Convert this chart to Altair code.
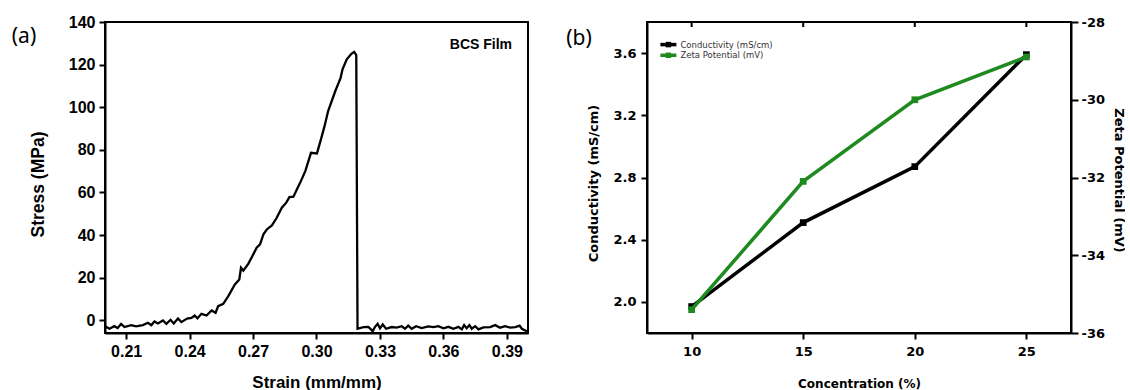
import altair as alt
import pandas as pd

# ---- (a) tensile test of the BCS film ----
strain = [
    0.2000, 0.2005, 0.2021, 0.2044, 0.2060, 0.2076, 0.2092, 0.2124, 0.2147, 0.2179,
    0.2203, 0.2219, 0.2234, 0.2250, 0.2274, 0.2290, 0.2310, 0.2325, 0.2345, 0.2361,
    0.2388, 0.2409, 0.2424, 0.2437, 0.2456, 0.2480, 0.2504, 0.2523, 0.2535, 0.2559,
    0.2583, 0.2614, 0.2635, 0.2643, 0.2654, 0.2678, 0.2701, 0.2717, 0.2733, 0.2749,
    0.2765, 0.2789, 0.2812, 0.2836, 0.2857, 0.2872, 0.2891, 0.2907, 0.2923, 0.2947,
    0.2974, 0.3002, 0.3021, 0.3038, 0.3055, 0.3089, 0.3114, 0.3123, 0.3143, 0.3165,
    0.3178, 0.3188, 0.3194, 0.3222, 0.3245, 0.3266, 0.3277, 0.3289, 0.3300, 0.3313,
    0.3329, 0.3355, 0.3379, 0.3403, 0.3418, 0.3434, 0.3450, 0.3471, 0.3497, 0.3529,
    0.3553, 0.3576, 0.3600, 0.3624, 0.3647, 0.3671, 0.3687, 0.3698, 0.3710, 0.3723,
    0.3734, 0.3750, 0.3766, 0.3789, 0.3821, 0.3845, 0.3868, 0.3892, 0.3916, 0.3940,
    0.3960, 0.3971, 0.3992, 0.4000,
]
stress = [
    -3.3, -3.1, -4.0, -2.8, -3.7, -1.7, -3.2, -2.3, -2.9, -2.3,
    -1.2, -2.3, -0.6, -1.5, -0.1, -1.7, 0.2, -1.5, 0.8, -0.9,
    0.8, 1.1, 2.2, 0.9, 3.0, 2.2, 4.6, 3.5, 6.6, 7.7,
    11.3, 16.8, 19.1, 24.6, 23.3, 26.6, 30.9, 34.0, 35.6, 40.3,
    42.6, 44.5, 48.1, 52.8, 55.2, 57.8, 58.0, 61.4, 64.6, 70.0,
    78.6, 78.3, 84.9, 91.1, 98.2, 107.6, 113.8, 117.8, 122.5, 125.1,
    126.0, 124.5, -4.0, -3.2, -3.1, -5.1, -3.1, -1.7, -3.8, -2.0,
    -4.0, -3.2, -3.5, -2.8, -4.0, -2.5, -4.0, -2.8, -3.7, -2.9,
    -3.2, -2.8, -3.8, -3.1, -4.0, -3.1, -4.3, -2.3, -3.8, -2.3,
    -4.0, -2.8, -4.3, -3.4, -3.2, -2.3, -3.5, -2.8, -3.5, -3.2,
    -2.5, -4.0, -5.1, -4.9,
]
strain_ticks = [0.21, 0.24, 0.27, 0.30, 0.33, 0.36, 0.39]
stress_ticks = [0, 20, 40, 60, 80, 100, 120, 140]

# ---- (b) conductivity and zeta potential vs concentration ----
concentration = [10, 15, 20, 25]
conductivity = [1.97, 2.51, 2.87, 3.59]
zeta_potential = [-35.4, -32.1, -30.0, -28.9]
conductivity_ticks = [2.0, 2.4, 2.8, 3.2, 3.6]
zeta_ticks = [-36, -34, -32, -30, -28]
legend_labels = ["Conductivity (mS/cm)", "Zeta Potential (mV)"]
series_colors = ["#000000", "#1f8a1f"]

FONT_A = "Liberation Sans"
FONT_B = "DejaVu Sans"
W_A, H_A = 423, 311
W_B, H_B = 424, 311

# ---------------- panel (a) ----------------
tensile = pd.DataFrame({"strain": strain, "stress": stress, "i": range(len(strain))})

axis_a = dict(
    labelFont=FONT_A, labelFontSize=16, labelFontWeight="bold", labelColor="black",
    titleFont=FONT_A, titleFontWeight="bold", titleColor="black",
    tickSize=6, tickWidth=2, tickColor="black",
    domainColor="black", domainWidth=2, grid=False, labelPadding=4,
)

curve = alt.Chart(tensile).mark_line(color="black", strokeWidth=2.3, clip=True).encode(
    x=alt.X(
        "strain:Q",
        scale=alt.Scale(domain=[0.2, 0.4], nice=False, zero=False),
        axis=alt.Axis(
            values=strain_ticks, format=".2f", title="Strain (mm/mm)",
            titleFontSize=17, titleX=W_A / 2, titleY=49, titleBaseline="middle",
            **axis_a,
        ),
    ),
    y=alt.Y(
        "stress:Q",
        scale=alt.Scale(domain=[-6, 140], nice=False, zero=False),
        axis=alt.Axis(
            values=stress_ticks, format="d", title="Stress (MPa)",
            titleFontSize=17.5, titleX=-67, titleY=162, titleAngle=-90,
            titleBaseline="middle", titleAlign="center",
            **axis_a,
        ),
    ),
    order="i:Q",
)

film_label = alt.Chart(pd.DataFrame({"t": ["BCS Film"]})).mark_text(
    font=FONT_A, fontSize=14, fontWeight="bold", align="right", baseline="middle", color="black"
).encode(text="t:N", x=alt.value(W_A - 16), y=alt.value(23))

tag_a = alt.Chart(pd.DataFrame({"t": ["(a)"]})).mark_text(
    font="Noto Sans", fontSize=21, align="center", baseline="middle", color="black"
).encode(text="t:N", x=alt.value(-81), y=alt.value(15))

panel_a = alt.layer(curve, film_label, tag_a).properties(width=W_A, height=H_A)

# ---------------- panel (b) ----------------
chem = pd.DataFrame({
    "conc": concentration,
    "cond": conductivity,
    "zeta": zeta_potential,
})

axis_b = dict(
    labelFont=FONT_B, labelFontSize=13, labelFontWeight="bold", labelColor="black",
    titleFont=FONT_B, titleFontSize=13, titleFontWeight="bold", titleColor="black",
    tickWidth=2, tickColor="black", domainColor="black", domainWidth=2, grid=False,
)

x_b = alt.X(
    "conc:Q",
    scale=alt.Scale(domain=[8, 27], nice=False, zero=False),
    axis=alt.Axis(
        values=concentration, format="d", title="Concentration (%)",
        tickSize=6, labelPadding=6, titleFontSize=12,
        titleX=W_B / 2, titleY=50, titleBaseline="middle",
        **{k: v for k, v in axis_b.items() if k != "titleFontSize"},
    ),
)
y_cond = alt.Y(
    "cond:Q",
    scale=alt.Scale(domain=[1.8, 3.8], nice=False, zero=False),
    axis=alt.Axis(
        orient="left", values=conductivity_ticks, format=".1f",
        title="Conductivity (mS/cm)", tickSize=6, labelPadding=5,
        titleX=-54, titleY=161, titleAngle=-90, titleBaseline="middle", titleAlign="center",
        **axis_b,
    ),
)
y_zeta = alt.Y(
    "zeta:Q",
    scale=alt.Scale(domain=[-36, -28], nice=False, zero=False),
    axis=alt.Axis(
        orient="right", values=zeta_ticks, labelExpr="toString(datum.value)",
        title="Zeta Potential (mV)", tickSize=7, labelPadding=3,
        titleX=47, titleY=158, titleAngle=90, titleBaseline="middle", titleAlign="center",
        **axis_b,
    ),
)

base_b = alt.Chart(chem)
cond_layer = alt.layer(
    base_b.mark_line(color=series_colors[0], strokeWidth=3.5).encode(x=x_b, y=y_cond),
    base_b.mark_point(shape="square", filled=True, size=45, opacity=1,
                      color=series_colors[0]).encode(x=x_b, y=y_cond),
    # inward ticks along the top edge at each concentration
    base_b.mark_rule(color="black", strokeWidth=2).encode(
        x=x_b, y=alt.value(0), y2=alt.value(5)
    ),
)
zeta_layer = alt.layer(
    base_b.mark_line(color=series_colors[1], strokeWidth=3.5).encode(x=x_b, y=y_zeta),
    base_b.mark_point(shape="square", filled=True, size=45, opacity=1,
                      color=series_colors[1]).encode(x=x_b, y=y_zeta),
)

legend_df = pd.DataFrame({
    "label": legend_labels,
    "color": series_colors,
    "row": [0, 1],
})
y_leg = alt.Y("row:Q", scale=alt.Scale(domain=[0, 1], range=[22.6, 33.3]), axis=None)
legend_b = alt.Chart(legend_df)
legend_layer = alt.layer(
    legend_b.mark_rule(strokeWidth=3.5).encode(
        x=alt.value(13.4), x2=alt.value(29.4), y=y_leg,
        color=alt.Color("color:N", scale=None),
    ),
    legend_b.mark_point(shape="square", filled=True, size=30, opacity=1).encode(
        x=alt.value(21.4), y=y_leg, color=alt.Color("color:N", scale=None),
    ),
    legend_b.mark_text(font=FONT_B, fontSize=8.5, align="left", baseline="middle",
                       color="#333333").encode(
        x=alt.value(33.4), y=y_leg, text="label:N",
    ),
)

tag_b = alt.Chart(pd.DataFrame({"t": ["(b)"]})).mark_text(
    font="Noto Sans", fontSize=21, align="center", baseline="middle", color="black"
).encode(text="t:N", x=alt.value(-68), y=alt.value(17))

panel_b = (
    alt.layer(cond_layer, zeta_layer, legend_layer, tag_b)
    .resolve_scale(y="independent")
    .properties(width=W_B, height=H_B)
)

chart = (
    alt.hconcat(panel_a, panel_b, spacing=36)
    .configure_view(stroke="black", strokeWidth=2)
    .properties(padding={"left": 10, "top": 13, "right": 0, "bottom": 0}, background="white")
)

chart.save("out.html", embed_options={"renderer": "svg", "actions": False})
